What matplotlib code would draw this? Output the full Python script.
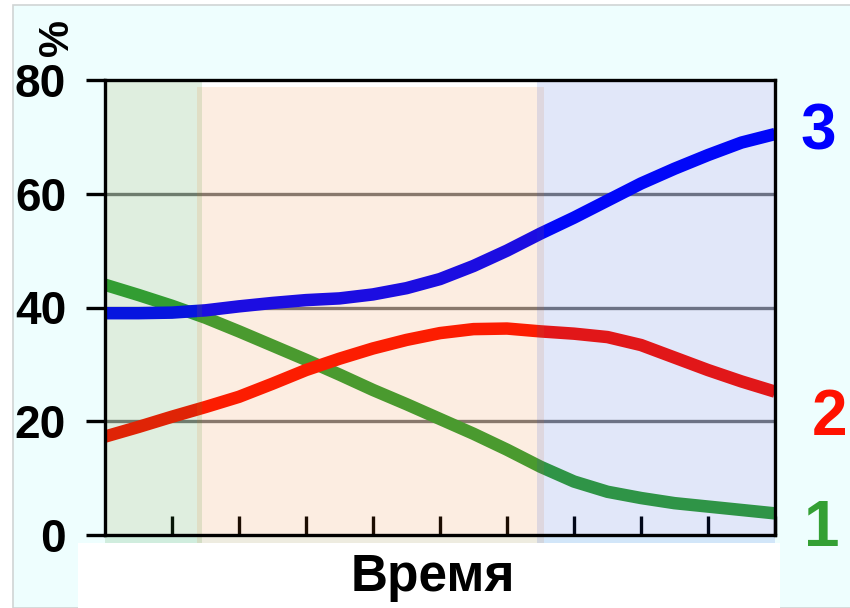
import matplotlib
matplotlib.use("Agg")
import matplotlib.pyplot as plt
from matplotlib.patches import Rectangle

# time steps (half-step readings) and shares (%)
t = [0, 0.5, 1, 1.5, 2, 2.5, 3, 3.5, 4, 4.5, 5, 5.5, 6, 6.5, 7, 7.5, 8, 8.5, 9, 9.5, 10]
s1 = [44.0, 42.2, 40.3, 38.2, 35.8, 33.3, 30.8, 28.2, 25.5, 23.0, 20.4,
      17.8, 15.0, 12.0, 9.4, 7.6, 6.5, 5.6, 5.0, 4.4, 3.8]
s2 = [17.3, 19.0, 20.8, 22.5, 24.3, 26.6, 29.0, 31.0, 32.8, 34.3, 35.5,
      36.2, 36.3, 35.8, 35.4, 34.8, 33.4, 31.2, 29.0, 27.0, 25.2]
s3 = [39.0, 39.0, 39.1, 39.5, 40.2, 40.8, 41.3, 41.6, 42.3, 43.4, 45.0,
      47.3, 50.0, 53.0, 55.8, 58.8, 61.8, 64.4, 66.8, 69.0, 70.5]
xticks = [1, 2, 3, 4, 5, 6, 7, 8, 9, 10]
yticks = [0, 20, 40, 60, 80]
zones = [(0, 1.45, 80, "#2a8e2a", 0.15),
         (1.38, 6.55, 78.8, "#ee710d", 0.12),
         (6.45, 10, 80, "#0d3fd5", 0.12)]

txt_font = ["Liberation Sans", "DejaVu Sans"]

fig = plt.figure(figsize=(8.5, 6.08), dpi=100)
fig.patch.set_facecolor("white")
# light cyan panel with thin grey frame
fig.patches.append(Rectangle((13/850, 0), 1, 1 - 5/608, transform=fig.transFigure,
                             facecolor="#eefefe", edgecolor="#d0d4d4", lw=1.2, zorder=-10))

ax = fig.add_axes([105/850, 1 - 535/608, 670/850, 455/608])
ax.set_facecolor("white")
ax.set_xlim(0, 10)
ax.set_ylim(0, 80)

for y in [20, 40, 60]:
    ax.axhline(y, color="#7a7a7a", lw=2.4, zorder=1)

for s, c in [(s1, "#34a034"), (s2, "#ff1200"), (s3, "#0000ff")]:
    ax.plot(t, s, color=c, lw=9, solid_capstyle="butt", solid_joinstyle="round", zorder=2)

# translucent period shading over the lines
for x0, x1, top, c, a in zones:
    ax.add_patch(Rectangle((x0, -1.5), x1 - x0, top + 1.5, facecolor=c, alpha=a,
                           edgecolor="none", clip_on=False, zorder=3))

for sp in ax.spines.values():
    sp.set_linewidth(2.4)
    sp.set_color("black")
    sp.set_zorder(5)

ax.set_xticks(xticks)
ax.set_xticklabels([])
ax.tick_params(axis="x", direction="in", length=14, width=2.4, color="black")
ax.set_yticks(yticks)
ax.set_yticklabels([str(v) for v in yticks])
ax.tick_params(axis="y", direction="out", length=14, width=2.4, pad=14)
for lab in ax.get_yticklabels():
    lab.set_family(txt_font)
    lab.set_fontweight("bold")
    lab.set_fontsize(33)

fig.text(57/850, 1 - 37/608, "%", rotation=90, ha="center", va="center",
         fontsize=30, fontweight="bold", family=txt_font)

# white strip under the axis with the axis title
fig.patches.append(Rectangle((78/850, 0), 702/850, 65/608, transform=fig.transFigure,
                             facecolor="white", edgecolor="none", zorder=4))
fig.text(433/850, 1 - 578/608, "Время", ha="center", va="center",
         fontsize=37, fontweight="bold", family=txt_font, zorder=6)

# series numbers at the right end
fig.text(818/850, 1 - 132/608, "3", color="#0000ff", ha="center", va="center",
         fontsize=46, fontweight="bold", family=txt_font)
fig.text(830/850, 1 - 418/608, "2", color="#ff1200", ha="center", va="center",
         fontsize=46, fontweight="bold", family=txt_font)
fig.text(822/850, 1 - 529/608, "1", color="#34a034", ha="center", va="center",
         fontsize=46, fontweight="bold", family=txt_font)

fig.savefig("out.png", dpi=100)
